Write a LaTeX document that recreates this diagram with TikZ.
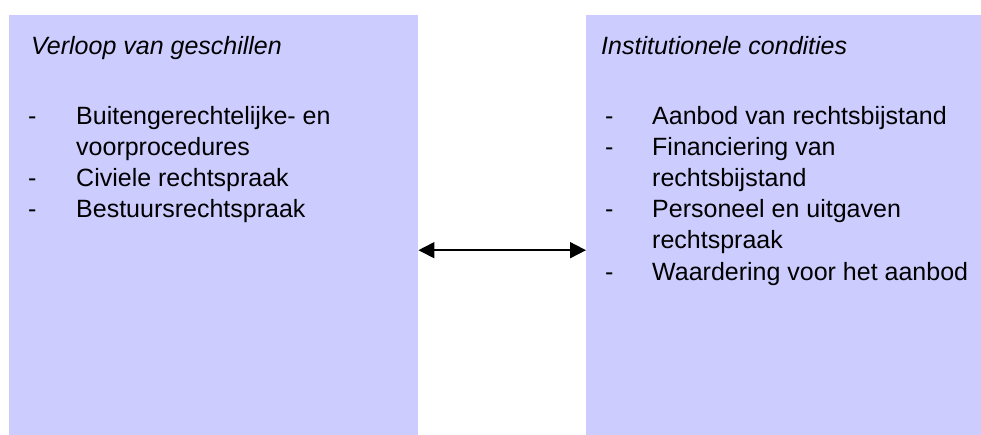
\documentclass[tikz,border=0pt]{standalone}
\usepackage{fontspec}
\setmainfont{Liberation Sans}
\usetikzlibrary{arrows.meta}
\definecolor{lila}{HTML}{CCCCFF}

\begin{document}
\begin{tikzpicture}[x=1pt,y=-1pt]

\tikzstyle{panel}=[rectangle,fill=lila,anchor=north west,inner sep=0pt]
\tikzstyle{kop}=[anchor=base west,inner sep=0pt,font=\fontsize{25}{31}\selectfont\itshape]
\tikzstyle{item}=[anchor=base west,inner sep=0pt,font=\fontsize{25}{31}\selectfont]
\tikzstyle{twoway}=[{Triangle[length=16pt,width=16pt]}-{Triangle[length=16pt,width=16pt]},line width=1.8pt]

\useasboundingbox (0,0) rectangle (981,435);

%left and right panels.
\node[panel,minimum width=409pt,minimum height=420pt] (geschil) at (9,15) {};
\node[panel,minimum width=395pt,minimum height=420pt] (conditie) at (586,15) {};

%left texts.
\node[kop] (kopL) at (31,55) {Verloop van geschillen};
\node[item] (dashL1) at (28,125) {-};
\node[item] (itemL1) at (76,125) {Buitengerechtelijke- en};
\node[item] (itemL2) at (76,156) {voorprocedures};
\node[item] (dashL2) at (28,187) {-};
\node[item] (itemL3) at (76,187) {Civiele rechtspraak};
\node[item] (dashL3) at (28,218) {-};
\node[item] (itemL4) at (76,218) {Bestuursrechtspraak};

%right texts.
\node[kop] (kopR) at (601,55) {Institutionele condities};
\node[item] (dashR1) at (605,125) {-};
\node[item] (itemR1) at (652,125) {Aanbod van rechtsbijstand};
\node[item] (dashR2) at (605,156) {-};
\node[item] (itemR2) at (652,156) {Financiering van};
\node[item] (itemR3) at (652,187) {rechtsbijstand};
\node[item] (dashR3) at (605,218) {-};
\node[item] (itemR4) at (652,218) {Personeel en uitgaven};
\node[item] (itemR5) at (652,249) {rechtspraak};
\node[item] (dashR4) at (605,280) {-};
\node[item] (itemR6) at (652,280) {Waardering voor het aanbod};

\draw [twoway] ([yshift=-25pt]geschil.east) -- ([yshift=-25pt]conditie.west);

\end{tikzpicture}
\end{document}
